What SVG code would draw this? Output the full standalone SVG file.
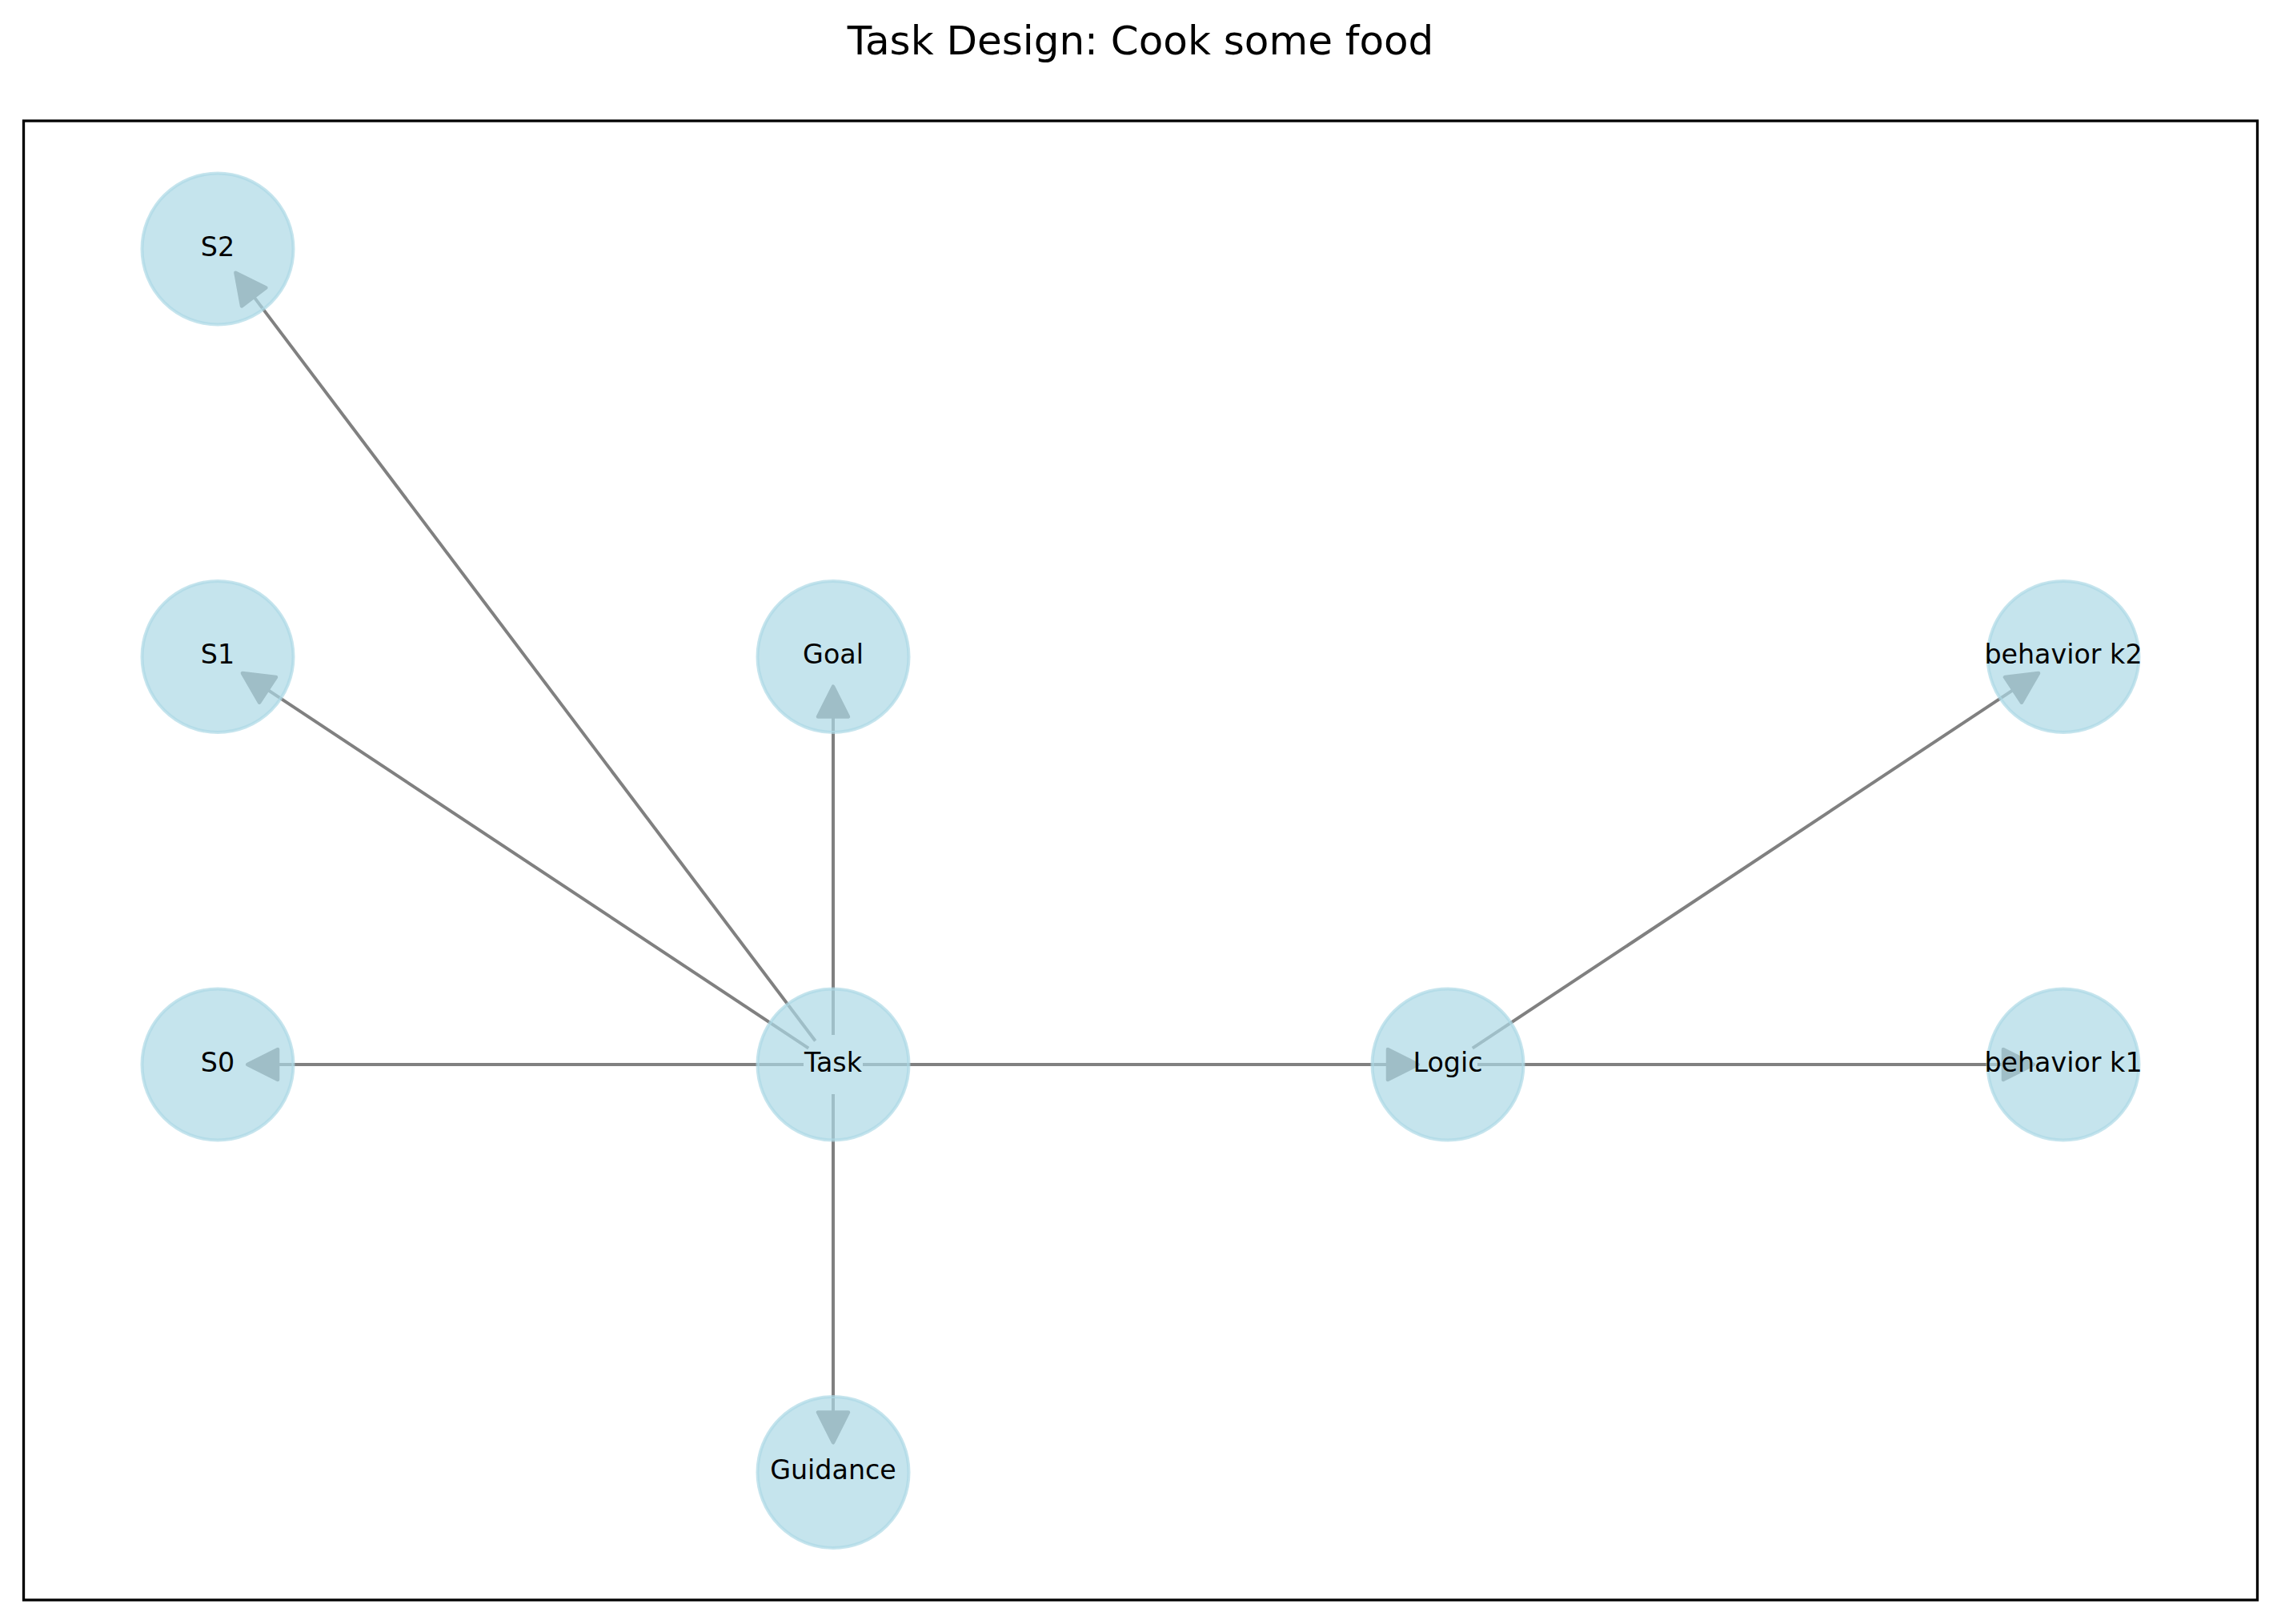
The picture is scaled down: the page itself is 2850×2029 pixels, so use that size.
<svg xmlns="http://www.w3.org/2000/svg" width="2850" height="2029" viewBox="0 0 2850 2029">
<style>
.edge{stroke:#808080;stroke-width:4;fill:none;marker-end:url(#ah)}
.node circle{fill:#ADD8E6;fill-opacity:0.7;stroke:#ADD8E6;stroke-opacity:0.7;stroke-width:4}
.node text{font-family:"DejaVu Sans",sans-serif;font-size:33.3px;fill:#000;text-anchor:middle}
.title{font-family:"DejaVu Sans",sans-serif;font-size:50px;fill:#000;text-anchor:middle}
</style>
<defs>
<marker id="ah" markerUnits="userSpaceOnUse" markerWidth="50" markerHeight="50" viewBox="-4 -22 44 44" refX="0" refY="0" orient="auto">
<path d="M0,-16.7 L33.3,0 L0,16.7 Z" fill="#808080" stroke="#808080" stroke-width="4" stroke-linejoin="round"/>
</marker>
</defs>
<rect width="2850" height="2029" fill="#fff"/>
<text class="title" x="1425" y="67.5">Task Design: Cook some food</text>
<rect x="29.5" y="151" width="2791" height="1848" fill="none" stroke="#000" stroke-width="3.3"/>
<g id="connectors">
<line class="edge" x1="1004" y1="1330" x2="347" y2="1330"/>
<line class="edge" x1="1078" y1="1330" x2="1734" y2="1330"/>
<line class="edge" x1="1041" y1="1293" x2="1041" y2="895.5"/>
<line class="edge" x1="1041" y1="1367" x2="1041" y2="1764.5"/>
<line class="edge" x1="1846" y1="1330" x2="2503" y2="1330"/>
<line class="edge" x1="1010.2" y1="1309.6" x2="334.5" y2="861.9"/>
<line class="edge" x1="1018.7" y1="1300.5" x2="317.2" y2="370.9"/>
<line class="edge" x1="1839.8" y1="1309.6" x2="2515.5" y2="861.9"/>
</g>
<g id="node-S2" class="node"><circle cx="272" cy="311" r="94.5"/><text x="272" y="319.7">S2</text></g>
<g id="node-S1" class="node"><circle cx="272" cy="820.5" r="94.5"/><text x="272" y="829.2">S1</text></g>
<g id="node-S0" class="node"><circle cx="272" cy="1330" r="94.5"/><text x="272" y="1338.7">S0</text></g>
<g id="node-Goal" class="node"><circle cx="1041" cy="820.5" r="94.5"/><text x="1041" y="829.2">Goal</text></g>
<g id="node-Task" class="node"><circle cx="1041" cy="1330" r="94.5"/><text x="1041" y="1338.7">Task</text></g>
<g id="node-Guidance" class="node"><circle cx="1041" cy="1839.5" r="94.5"/><text x="1041" y="1848.2">Guidance</text></g>
<g id="node-Logic" class="node"><circle cx="1809" cy="1330" r="94.5"/><text x="1809" y="1338.7">Logic</text></g>
<g id="node-behavior-k2" class="node"><circle cx="2578" cy="820.5" r="94.5"/><text x="2578" y="829.2">behavior k2</text></g>
<g id="node-behavior-k1" class="node"><circle cx="2578" cy="1330" r="94.5"/><text x="2578" y="1338.7">behavior k1</text></g>
</svg>
